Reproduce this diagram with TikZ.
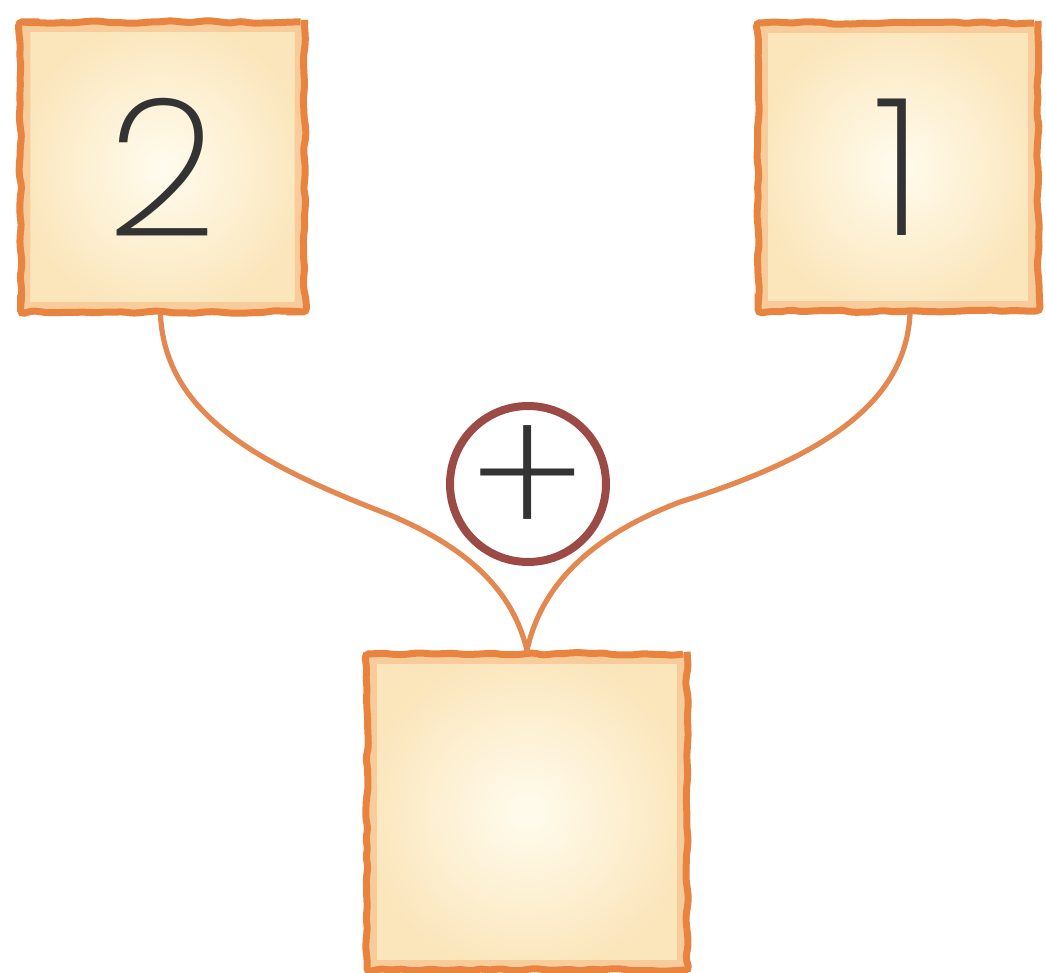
\documentclass[tikz,border=0pt]{standalone}
\usepackage{fontspec}
\usetikzlibrary{decorations.pathmorphing}
\newfontfamily\digitfont{Poppins ExtraLight}
\definecolor{rim}{HTML}{E8843F}
\definecolor{glow}{HTML}{F6B47A}
\definecolor{cream}{HTML}{FFFCEE}
\definecolor{creamedge}{HTML}{FBE6BC}
\definecolor{ring}{HTML}{9B4A45}
\definecolor{ink}{HTML}{333333}
\definecolor{vine}{HTML}{E38850}
\tikzset{
  cardbox/.style={draw=rim, line width=3.5pt, inner color=cream, outer color=creamedge,
    rounded corners=2pt, decorate,
    decoration={random steps, segment length=5pt, amplitude=0.7pt},
    path picture={\draw[glow, line width=12pt, opacity=0.5]
      (path picture bounding box.south west) rectangle (path picture bounding box.north east);},
    font=\digitfont\fontsize{96}{96}\selectfont, text=ink, inner sep=0pt},
  vineline/.style={vine, line width=2.6pt, line cap=round},
  ringnode/.style={circle, draw=ring, line width=4pt, minimum size=78pt, inner sep=-20pt,
    font=\digitfont\fontsize{92}{92}\selectfont, text=ink},
}
\begin{document}
\begin{tikzpicture}[x=0.5pt, y=-0.5pt]
  \useasboundingbox (0,0) rectangle (1046,973);
  \node[cardbox, minimum width=142pt, minimum height=145pt] (l) at (162.5,167) {2};
  \node[cardbox, minimum width=140pt, minimum height=144pt] (r) at (898,167) {1};
  \node[cardbox, minimum width=160pt, minimum height=158pt] (b) at (527,812) {};
  \node[ringnode] (p) at (528,484) {+};
  \draw[vineline] ([xshift=-1pt]l.south) .. controls (166,415) and (260,465) .. (390,515)
    .. controls (480,553) and (515,600) .. (b.north);
  \draw[vineline] ([xshift=6pt]r.south) .. controls (905,400) and (830,455) .. (680,502)
    .. controls (585,538) and (540,590) .. (b.north);
\end{tikzpicture}
\end{document}
